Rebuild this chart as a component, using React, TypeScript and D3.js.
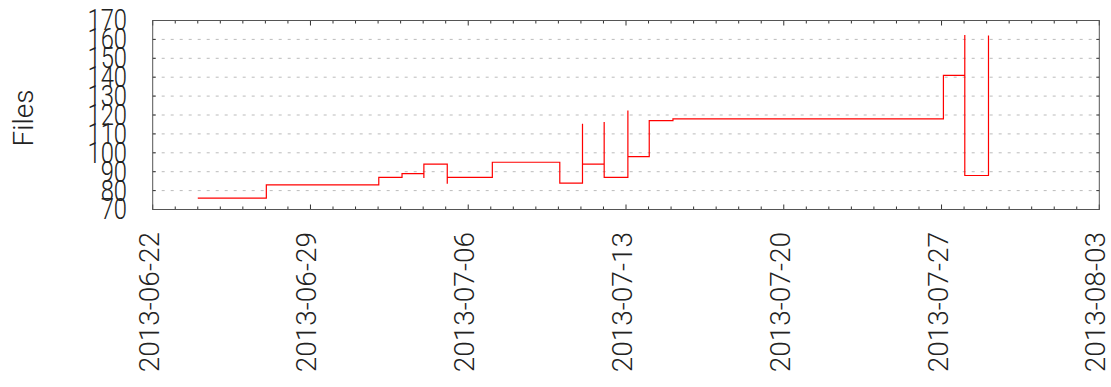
import * as d3 from "d3"

// step points (UTC); repeated stamps make the short spikes
const stamps = [
  "2013-06-24T00:00",
  "2013-06-27T01:00",
  "2013-07-02T00:45",
  "2013-07-03T01:30",
  "2013-07-04T00:45",
  "2013-07-04T00:46",
  "2013-07-05T01:40",
  "2013-07-05T01:41",
  "2013-07-07T01:40",
  "2013-07-10T01:30",
  "2013-07-11T01:40",
  "2013-07-11T01:41",
  "2013-07-12T00:45",
  "2013-07-12T00:46",
  "2013-07-13T02:00",
  "2013-07-13T02:01",
  "2013-07-14T00:45",
  "2013-07-15T02:00",
  "2013-07-27T02:00",
  "2013-07-28T00:45",
  "2013-07-28T00:46",
  "2013-07-29T02:00",
]
const files = [76, 83, 87, 89, 87, 94, 84, 87, 95, 84, 115, 94, 116, 87, 122, 98, 117, 118, 141, 162, 88, 162]

const yTicks = [70, 80, 90, 100, 110, 120, 130, 140, 150, 160, 170]
const xTickLabels = ["2013-06-22", "2013-06-29", "2013-07-06", "2013-07-13", "2013-07-20", "2013-07-27", "2013-08-03"]

const W = 1111
const H = 387
const left = 152.7
const right = 1099.3
const top = 20.5
const bottom = 209.5

const parse = d3.utcParse("%Y-%m-%dT%H:%M")
const parseDay = d3.utcParse("%Y-%m-%d")

export default function App() {
  const x = d3
    .scaleUtc()
    .domain([parseDay(xTickLabels[0])!, parseDay(xTickLabels[xTickLabels.length - 1])!])
    .range([left, right])

  const y = d3.scaleLinear().domain([70, 170]).range([bottom, top])

  const pts = stamps.map((s, i) => [parse(s)!, files[i]] as [Date, number])

  const line = d3
    .line<[Date, number]>()
    .x((d) => x(d[0]))
    .y((d) => y(d[1]))
    .curve(d3.curveStepAfter)

  const days = d3.utcDay.range(x.domain()[0], d3.utcDay.offset(x.domain()[1], 1))
  const font = "Roboto, 'Liberation Sans', sans-serif"

  return (
    <svg width={W} height={H} style={{ position: "absolute", left: 0, top: 0, background: "#fff" }}>
      {/* grid */}
      {yTicks.slice(1, -1).map((t) => (
        <line key={t} x1={left} x2={right} y1={y(t)} y2={y(t)} stroke="#bbb" strokeWidth={1} strokeDasharray="3 6" />
      ))}

      {/* daily ticks, inward on top and bottom */}
      {days.map((d) => {
        const major = xTickLabels.includes(d3.utcFormat("%Y-%m-%d")(d))
        const len = major ? 5 : 3
        return (
          <g key={+d} stroke="#333" strokeWidth={1}>
            <line x1={x(d)} x2={x(d)} y1={bottom} y2={bottom - len} />
            <line x1={x(d)} x2={x(d)} y1={top} y2={top + len} />
          </g>
        )
      })}

      {/* y ticks inward on both sides */}
      {yTicks.map((t) => (
        <g key={t} stroke="#333" strokeWidth={1}>
          <line x1={left} x2={left + 3} y1={y(t)} y2={y(t)} />
          <line x1={right} x2={right - 3} y1={y(t)} y2={y(t)} />
        </g>
      ))}

      <rect x={left} y={top} width={right - left} height={bottom - top} fill="none" stroke="#555" strokeWidth={1} />

      <path d={line(pts) ?? ""} fill="none" stroke="#ff0000" strokeWidth={1.2} />

      {/* y labels, a bit stretched like the original */}
      {yTicks.map((t) => (
        <text
          key={t}
          transform={`translate(127,${y(t)}) scale(0.95,1.2)`}
          textAnchor="end"
          dominantBaseline="central"
          fontFamily={font}
          fontWeight={300}
          fontSize={25}
          fill="#222"
        >
          {t}
        </text>
      ))}

      {/* x labels */}
      {xTickLabels.map((l) => (
        <text
          key={l}
          transform={`translate(${x(parseDay(l)!) + 6},232) rotate(-90)`}
          textAnchor="end"
          fontFamily={font}
          fontWeight={300}
          fontSize={28}
          fill="#222"
        >
          {l}
        </text>
      ))}

      <text
        transform={`translate(33,118) rotate(-90)`}
        textAnchor="middle"
        fontFamily={font}
        fontWeight={300}
        fontSize={28}
        fill="#222"
      >
        Files
      </text>
    </svg>
  )
}
